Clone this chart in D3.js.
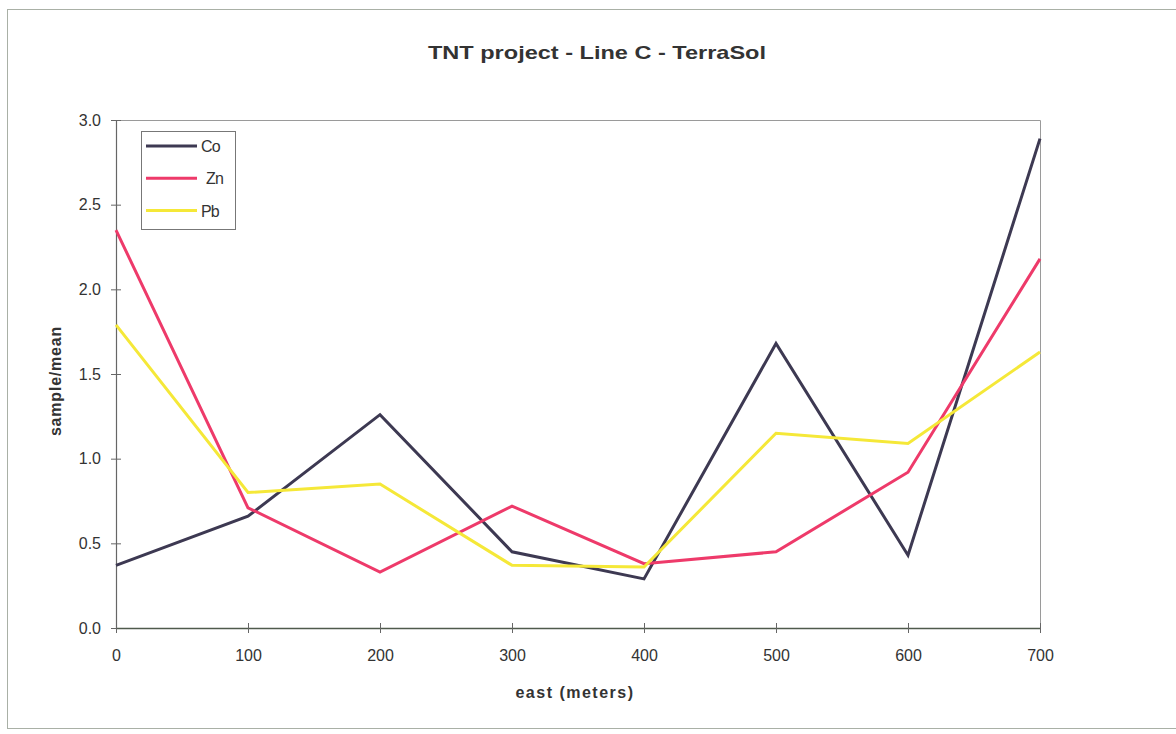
<!DOCTYPE html>
<html>
<head>
<meta charset="utf-8">
<script src="https://cdn.jsdelivr.net/npm/d3@7"></script>
<style>
  html, body { margin: 0; padding: 0; background: #ffffff; }
  svg { display: block; }
  text { font-family: "Liberation Sans", Arial, sans-serif; fill: #333; }
</style>
</head>
<body>
<svg id="chart" width="1176" height="734"></svg>
<script>
// Sample positions along the line (east, meters)
const eastPositions = [0, 100, 200, 300, 400, 500, 600, 700];

// Element ratios (sample / mean) at each position
const coValues = [0.37, 0.66, 1.26, 0.45, 0.29, 1.68, 0.43, 2.89];
const znValues = [2.35, 0.71, 0.33, 0.72, 0.38, 0.45, 0.92, 2.18];
const pbValues = [1.79, 0.80, 0.85, 0.37, 0.36, 1.15, 1.09, 1.63];

const seriesNames = ["Co", "Zn", "Pb"];
const seriesColors = ["#3d3952", "#ee3a6a", "#f5e838"];

const xTicks = [0, 100, 200, 300, 400, 500, 600, 700];
const yTicks = [0, 0.5, 1.0, 1.5, 2.0, 2.5, 3.0];

const series = [coValues, znValues, pbValues].map((vals, i) => ({
  name: seriesNames[i],
  color: seriesColors[i],
  points: eastPositions.map((e, j) => ({ x: e, y: vals[j] }))
}));

const svg = d3.select("#chart");
const plot = { left: 116, top: 120, right: 1040, bottom: 628 };

const x = d3.scaleLinear().domain([0, 700]).range([plot.left, plot.right]);
const y = d3.scaleLinear().domain([0, 3]).range([plot.bottom, plot.top]);

// Outer chart frame
svg.append("rect")
  .attr("x", 7.5).attr("y", 9.5)
  .attr("width", 1200).attr("height", 719)
  .attr("fill", "none")
  .attr("stroke", "#a9b0a6")
  .attr("stroke-width", 1);

// Plot area outline (top and right edges)
svg.append("path")
  .attr("d", `M${plot.left},${plot.top + 0.5}H${plot.right + 0.5}V${plot.bottom}`)
  .attr("fill", "none")
  .attr("stroke", "#9a9a9a")
  .attr("stroke-width", 1);

// Y axis
const yAxis = d3.axisLeft(y)
  .tickValues(yTicks)
  .tickFormat(d3.format(".1f"))
  .tickSizeInner(5)
  .tickSizeOuter(0)
  .tickPadding(10);
const gy = svg.append("g")
  .attr("transform", `translate(${plot.left},0)`)
  .call(yAxis);
gy.select(".domain").attr("stroke", "#666").attr("stroke-width", 1.2);
gy.selectAll(".tick line").attr("stroke", "#666").attr("x2", -5).attr("x1", 5);
gy.selectAll(".tick text")
  .attr("font-size", 16)
  .attr("font-family", "Liberation Sans, Arial, sans-serif")
  .attr("fill", "#333");

// X axis
const xAxis = d3.axisBottom(x)
  .tickValues(xTicks)
  .tickFormat(d3.format("d"))
  .tickSizeInner(5)
  .tickSizeOuter(0)
  .tickPadding(17);
const gx = svg.append("g")
  .attr("transform", `translate(0,${plot.bottom})`)
  .call(xAxis);
gx.select(".domain").attr("stroke", "#4f5a4c").attr("stroke-width", 1.4);
gx.selectAll(".tick line").attr("stroke", "#666").attr("y1", -5).attr("y2", 5);
gx.selectAll(".tick text")
  .attr("font-size", 16)
  .attr("font-family", "Liberation Sans, Arial, sans-serif")
  .attr("fill", "#333");

// Series lines
const line = d3.line().x(d => x(d.x)).y(d => y(d.y));
svg.append("g")
  .selectAll("path")
  .data(series)
  .join("path")
  .attr("d", d => line(d.points))
  .attr("fill", "none")
  .attr("stroke", d => d.color)
  .attr("stroke-width", 3)
  .attr("stroke-linejoin", "miter");

// Title
svg.append("text")
  .attr("x", 597).attr("y", 59)
  .attr("text-anchor", "middle")
  .attr("font-size", 19)
  .attr("font-weight", "bold")
  .attr("textLength", 338)
  .attr("lengthAdjust", "spacingAndGlyphs")
  .text("TNT project - Line C - TerraSol");

// Axis titles
svg.append("text")
  .attr("x", 575).attr("y", 698)
  .attr("text-anchor", "middle")
  .attr("font-size", 16)
  .attr("font-weight", "bold")
  .attr("letter-spacing", 1.5)
  .text("east (meters)");

svg.append("text")
  .attr("transform", `translate(61,${(plot.top + plot.bottom) / 2 + 7}) rotate(-90)`)
  .attr("text-anchor", "middle")
  .attr("font-size", 16)
  .attr("font-weight", "bold")
  .attr("letter-spacing", 0.8)
  .text("sample/mean");

// Legend
const legend = svg.append("g").attr("transform", "translate(141,131)");
legend.append("rect")
  .attr("x", 0.5).attr("y", 0.5)
  .attr("width", 94).attr("height", 98)
  .attr("fill", "#fff")
  .attr("stroke", "#777")
  .attr("stroke-width", 1);
const rows = legend.selectAll("g.row")
  .data(series)
  .join("g")
  .attr("class", "row")
  .attr("transform", (d, i) => `translate(0,${15 + i * 32.3})`);
rows.append("line")
  .attr("x1", 5).attr("x2", 56)
  .attr("stroke", d => d.color)
  .attr("stroke-width", 3);
rows.append("text")
  .attr("x", d => d.name === "Zn" ? 65 : 60)
  .attr("y", 6)
  .attr("font-size", 16)
  .attr("letter-spacing", -0.8)
  .text(d => d.name);
</script>
</body>
</html>
